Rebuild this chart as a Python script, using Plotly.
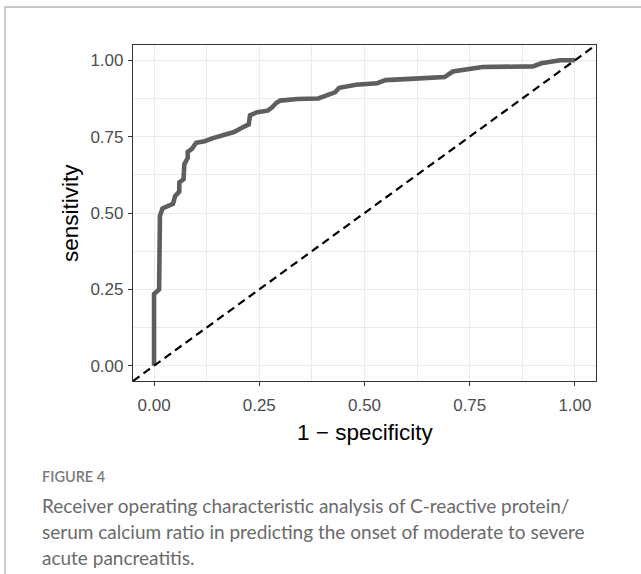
import plotly.graph_objects as go

# ROC curve vertices
fpr = [0.0, 0.0, 0.012, 0.014, 0.02, 0.045, 0.05, 0.06, 0.06, 0.07, 0.072, 0.08, 0.08,
       0.09, 0.10, 0.12, 0.14, 0.17, 0.19, 0.21, 0.225, 0.228, 0.245, 0.27, 0.28, 0.29,
       0.30, 0.34, 0.39, 0.41, 0.43, 0.44, 0.48, 0.53, 0.55, 0.62, 0.69, 0.71, 0.75,
       0.78, 0.90, 0.92, 0.965, 1.0]
tpr = [0.0, 0.235, 0.25, 0.49, 0.515, 0.53, 0.555, 0.57, 0.60, 0.61, 0.66, 0.68, 0.70,
       0.71, 0.73, 0.735, 0.745, 0.755, 0.765, 0.78, 0.79, 0.82, 0.83, 0.835, 0.845, 0.86,
       0.868, 0.873, 0.875, 0.885, 0.895, 0.91, 0.92, 0.925, 0.935, 0.94, 0.945, 0.963, 0.973,
       0.978, 0.98, 0.99, 1.0, 1.0]
diag = [-0.05, 1.05]

x_title = "1 − specificity"
y_title = "sensitivity"
caption_head = "FIGURE 4"
caption_lines = [
    "Receiver operating characteristic analysis of C-reactive protein/",
    "serum calcium ratio in predicting the onset of moderate to severe",
    "acute pancreatitis.",
]

W, H = 641, 574
L, R, T, B = 133, 596, 45, 381
pw, ph = R - L, B - T

def px(X):
    return (X - L) / pw

def py(Y):
    return (B - Y) / ph

fig = go.Figure()
fig.add_trace(go.Scatter(x=fpr, y=tpr, mode="lines",
                         line=dict(color="#5e5e5e", width=4.6), hoverinfo="skip"))
fig.add_trace(go.Scatter(x=diag, y=diag, mode="lines",
                         line=dict(color="black", width=2.2, dash="8px,5px"), hoverinfo="skip"))

axis_common = dict(
    range=[-0.05, 1.05], dtick=0.25, tick0=0, tickformat=".2f",
    ticks="outside", ticklen=4, tickwidth=1.1, tickcolor="#333333",
    showline=True, mirror=True, linecolor="#333333", linewidth=1.2,
    showgrid=True, gridcolor="#EBEBEB", gridwidth=1.1, zeroline=False,
    tickfont=dict(family="Liberation Sans, Arial", size=17, color="#4D4D4D"),
    minor=dict(dtick=0.125, tick0=0, showgrid=True, gridcolor="#EBEBEB", gridwidth=0.55, ticks=""),
    fixedrange=True,
)
fig.update_xaxes(**axis_common, ticklabelstandoff=4)
fig.update_yaxes(**axis_common, ticklabelstandoff=1)

ann = []
ann.append(dict(text=x_title, xref="paper", yref="paper", x=px(364.5), y=py(433),
                showarrow=False, xanchor="center", yanchor="middle",
                font=dict(family="Liberation Sans, Arial", size=22.5, color="black")))
ann.append(dict(text=y_title, xref="paper", yref="paper", x=px(70), y=py(213),
                showarrow=False, xanchor="center", yanchor="middle", textangle=-90,
                font=dict(family="Liberation Sans, Arial", size=22.5, color="black")))
ann.append(dict(text=caption_head, xref="paper", yref="paper", x=px(40), y=py(476),
                showarrow=False, xanchor="left", yanchor="middle",
                font=dict(family="Lato", size=14.5, color="#7a7a7a", weight=600)))
for i, line in enumerate(caption_lines):
    ann.append(dict(text=line, xref="paper", yref="paper", x=px(40), y=py(505 + 26 * i),
                    showarrow=False, xanchor="left", yanchor="middle",
                    font=dict(family="Lato", size=19, color="#6a6a6a")))

shapes = [dict(type="rect", xref="paper", yref="paper",
               x0=px(5), x1=px(660), y0=py(7), y1=py(600),
               line=dict(color="#b5b5b5", width=1.3), fillcolor="rgba(0,0,0,0)", layer="below")]

fig.update_layout(
    width=W, height=H, autosize=False,
    margin=dict(l=L, r=W - R, t=T, b=H - B),
    paper_bgcolor="white", plot_bgcolor="white",
    showlegend=False, annotations=ann, shapes=shapes,
)
fig.write_html("out.html", config={"displayModeBar": False})
